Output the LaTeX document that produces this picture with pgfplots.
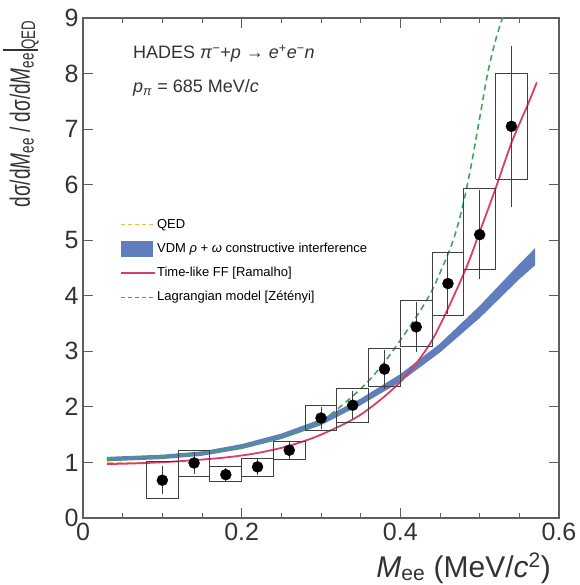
\documentclass[border=0pt]{standalone}
\usepackage{fontspec}
\setmainfont{Liberation Sans}
\usepackage{pgfplots}
\pgfplotsset{compat=1.18}
\usepgfplotslibrary{fillbetween}
\definecolor{qedc}{RGB}{232,190,70}
\definecolor{vdmc}{RGB}{96,126,190}
\definecolor{ffc}{RGB}{218,62,104}
\definecolor{lagc}{RGB}{60,168,92}
\definecolor{axc}{RGB}{95,95,95}
\begin{document}
\begin{tikzpicture}
\begin{axis}[
  scale only axis,
  width=476pt,height=500pt,
  xmin=0,xmax=0.6,ymin=0,ymax=9,
  xtick={0,0.2,0.4,0.6},
  xticklabels={0,0.2,0.4,0.6},
  minor x tick num=3,
  ytick={0,1,...,9},
  tick align=inside,
  major tick length=10pt,
  minor tick length=5pt,
  axis line style={axc,line width=1.2pt},
  tick style={axc,line width=1pt},
  every tick label/.append style={font=\fontsize{25}{30}\selectfont,text=black!80},
  xticklabel style={yshift=-2pt},
  yticklabel style={xshift=-1pt},
  /pgf/number format/assume math mode=true,
  clip=true,
  unbounded coords=jump,
  legend style={at={(axis cs:0.047,5.42)},anchor=north west,draw=none,fill=none,
    font=\fontsize{13}{15}\selectfont,
    row sep=9pt,inner sep=0pt,
    nodes={inner sep=1pt,text height=10pt,text depth=3pt,anchor=west},
    /tikz/every even column/.append style={column sep=6pt}},
  legend cell align=left,
]
% QED reference (mostly hidden under the other curves)
\addplot[qedc,line width=1.6pt,dash pattern=on 6pt off 4pt,forget plot] coordinates {(0.03,1.0) (0.09,1.0)};
% VDM band
\addplot[name path=vlo,draw=none,forget plot] coordinates {
(0.03,1.02) (0.10,1.06) (0.15,1.12) (0.20,1.24) (0.25,1.42) (0.30,1.67) (0.334,1.92)
(0.35,2.03) (0.40,2.45) (0.45,2.98) (0.50,3.60) (0.55,4.30) (0.57,4.55)};
\addplot[name path=vhi,draw=none,forget plot] coordinates {
(0.03,1.10) (0.10,1.14) (0.15,1.20) (0.20,1.33) (0.25,1.52) (0.30,1.78) (0.334,2.03)
(0.35,2.15) (0.40,2.59) (0.45,3.14) (0.50,3.82) (0.55,4.57) (0.57,4.86)};
\addplot[fill=vdmc,draw=none,forget plot] fill between[of=vlo and vhi];
% Time-like FF
\addplot[ffc,line width=1.8pt,smooth,forget plot] coordinates {
(0.03,0.97) (0.08,0.99) (0.13,1.03) (0.18,1.09) (0.22,1.17) (0.26,1.30) (0.30,1.50)
(0.35,1.86) (0.40,2.45) (0.44,3.20) (0.48,4.40) (0.50,5.15) (0.52,5.93) (0.54,6.75)
(0.56,7.42) (0.572,7.84)};
% Lagrangian model
\addplot[lagc,line width=1.6pt,dash pattern=on 6pt off 4pt,smooth,forget plot] coordinates {
(0.03,1.08) (0.10,1.11) (0.15,1.17) (0.20,1.28) (0.25,1.45) (0.30,1.75) (0.334,2.12)
(0.36,2.47) (0.384,2.88) (0.42,3.62) (0.44,4.10) (0.46,4.75) (0.47,5.15) (0.48,5.70)
(0.49,6.40) (0.50,7.20) (0.51,8.00) (0.52,8.60) (0.53,9.05) (0.535,9.2)};
% systematic boxes
\addplot[black!75,line width=0.9pt,forget plot] coordinates {
(0.08,0.35) (0.12,0.35) (0.12,1.02) (0.08,1.02) (0.08,0.35) (0.08,nan)
(0.12,0.75) (0.16,0.75) (0.16,1.22) (0.12,1.22) (0.12,0.75) (0.12,nan)
(0.16,0.65) (0.20,0.65) (0.20,0.92) (0.16,0.92) (0.16,0.65) (0.16,nan)
(0.20,0.75) (0.24,0.75) (0.24,1.08) (0.20,1.08) (0.20,0.75) (0.20,nan)
(0.24,1.05) (0.28,1.05) (0.28,1.38) (0.24,1.38) (0.24,1.05) (0.24,nan)
(0.28,1.58) (0.32,1.58) (0.32,2.03) (0.28,2.03) (0.28,1.58) (0.28,nan)
(0.32,1.72) (0.36,1.72) (0.36,2.34) (0.32,2.34) (0.32,1.72) (0.32,nan)
(0.36,2.36) (0.40,2.36) (0.40,3.06) (0.36,3.06) (0.36,2.36) (0.36,nan)
(0.40,3.08) (0.44,3.08) (0.44,3.92) (0.40,3.92) (0.40,3.08) (0.40,nan)
(0.44,3.65) (0.48,3.65) (0.48,4.78) (0.44,4.78) (0.44,3.65) (0.44,nan)
(0.48,4.48) (0.52,4.48) (0.52,5.93) (0.48,5.93) (0.48,4.48) (0.48,nan)
(0.52,6.10) (0.56,6.10) (0.56,8.00) (0.52,8.00) (0.52,6.10)};
% data points with statistical errors
\addplot[only marks,mark=*,mark size=5.5pt,black,forget plot,
  error bars/.cd,y dir=both,y explicit,error bar style={line width=1pt,black!75},
  error mark=none] coordinates {
(0.10,0.68) +- (0,0.25)
(0.14,0.99) +- (0,0.20)
(0.18,0.78) +- (0,0.12)
(0.22,0.92) +- (0,0.15)
(0.26,1.22) +- (0,0.15)
(0.30,1.80) +- (0,0.20)
(0.34,2.03) +- (0,0.25)
(0.38,2.68) +- (0,0.35)
(0.42,3.44) +- (0,0.45)
(0.46,4.22) +- (0,0.55)
(0.50,5.10) +- (0,0.80)
(0.54,7.05) +- (0,1.45)};
\addlegendimage{legend image code/.code={\draw[qedc,line width=1.4pt,dash pattern=on 4pt off 3pt] (0pt,0pt) -- (34pt,0pt);}}
\addlegendentry{QED}
\addlegendimage{legend image code/.code={\fill[vdmc] (0pt,-7pt) rectangle (31pt,8pt);}}
\addlegendentry{VDM \textit{ρ} + \textit{ω} constructive interference}
\addlegendimage{legend image code/.code={\draw[ffc,line width=1.6pt] (0pt,0pt) -- (34pt,0pt);}}
\addlegendentry{Time-like FF [Ramalho]}
\addlegendimage{legend image code/.code={\draw[lagc,line width=1.4pt,dash pattern=on 4pt off 3pt] (0pt,0pt) -- (34pt,0pt);}}
\addlegendentry{Lagrangian model [Zétényi]}
\node[anchor=base west,inner sep=0pt,font=\fontsize{18}{21}\selectfont,text=black!80]
  at (axis cs:0.063,8.27) {HADES \textit{π}\textsuperscript{−}+\textit{p} → \textit{e}\textsuperscript{+}\textit{e}\textsuperscript{−}\textit{n}};
\node[anchor=base west,inner sep=0pt,font=\fontsize{18}{21}\selectfont,text=black!80]
  at (axis cs:0.063,7.66) {\textit{p}\textsubscript{\textit{π}} = 685 MeV/\textit{c}};
\end{axis}
\node[anchor=base east,inner sep=0pt,font=\fontsize{30}{34}\selectfont,text=black!80]
  at ([shift={(-8pt,-59pt)}]current axis.south east) {\textit{M}\textsubscript{ee} (MeV/\textit{c}\textsuperscript{2})};
\node[anchor=east,rotate=90,inner sep=0pt,font=\fontsize{28}{32}\selectfont,text=black!80]
  at ([shift={(-62pt,-2pt)}]current axis.north west) {\scalebox{0.68}[1]{dσ/d\textit{M}\textsubscript{ee} / dσ/d\textit{M}\textsubscript{ee}\kern0.12em\rule[-0.3em]{0.07em}{1.25em}\textsubscript{QED}}};
\pgfresetboundingbox
\path ([shift={(-83pt,-67pt)}]current axis.south west) rectangle ([shift={(20pt,18pt)}]current axis.north east);
\end{tikzpicture}
\end{document}
